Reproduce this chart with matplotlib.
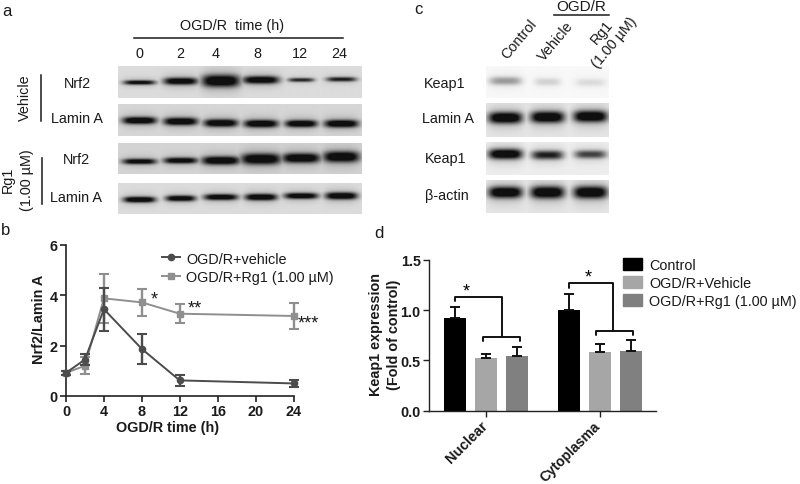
import numpy as np
import matplotlib
matplotlib.use("Agg")
import matplotlib.pyplot as plt
from matplotlib.patches import Patch
from matplotlib.lines import Line2D

plt.rcParams['font.family'] = ['Liberation Sans', 'DejaVu Sans']
W, H = 800, 485
FS = 10.4

# ---- Line chart (b)
time_h = [0, 2, 4, 8, 12, 24]
vehicle_mean = [0.92, 1.45, 3.45, 1.87, 0.62, 0.50]
vehicle_err = [0.08, 0.20, 0.85, 0.60, 0.23, 0.15]
rg1_mean = [0.92, 1.20, 3.88, 3.72, 3.27, 3.18]
rg1_err = [0.08, 0.33, 0.98, 0.53, 0.37, 0.50]

# ---- Bar chart (d)
fractions = ['Nuclear', 'Cytoplasma']
groups = ['Control', 'OGD/R+Vehicle', 'OGD/R+Rg1 (1.00 µM)']
control_vals = [0.92, 1.00]
control_err = [0.11, 0.16]
veh_vals = [0.52, 0.58]
veh_err = [0.04, 0.08]
rg1_vals = [0.54, 0.59]
rg1_bar_err = [0.09, 0.11]

# ---- Blots (a, c): band darkness 0..1, half-thickness px, half-width px, vertical fraction
a_nrf2_veh = dict(dark=[.85, .95, 1, .97, .7, .75], thick=[1.8, 2.8, 4.8, 3.0, 1.6, 1.8],
                  wide=[16, 17, 19, 18, 13, 15], pos=[.50, .46, .45, .42, .42, .40], bg=.86)
a_lamin_veh = dict(dark=[1, 1, 1, 1, 1, 1], thick=[2.8, 3.0, 3.0, 3.0, 2.8, 3.0],
                   wide=[17, 17, 17, 17, 16, 17], pos=[.50, .53, .58, .60, .60, .60], bg=.84)
a_nrf2_rg1 = dict(dark=[.9, .92, 1, 1, 1, 1], thick=[2.2, 2.4, 3.3, 4.3, 3.8, 4.3],
                  wide=[17, 17, 19, 20, 19, 18], pos=[.58, .55, .55, .50, .47, .43], bg=.83)
a_lamin_rg1 = dict(dark=[1, .95, .95, 1, .95, 1], thick=[2.3, 2.3, 2.4, 2.6, 2.4, 2.8],
                   wide=[16, 15, 17, 16, 17, 16], pos=[.52, .48, .44, .44, .40, .40], bg=.86)
c_keap_nuc = dict(dark=[.32, .13, .10], thick=[3.2, 3.0, 3.0], wide=[16, 13, 15],
                  pos=[.45, .48, .50], bg=.97)
c_lamin = dict(dark=[1, 1, 1], thick=[4.5, 4.5, 4.5], wide=[17, 17, 17],
               pos=[.42, .40, .38], bg=.90)
c_keap_cyt = dict(dark=[1, .75, .62], thick=[4.0, 3.5, 3.2], wide=[17, 16, 16],
                  pos=[.35, .38, .36], bg=.93)
c_actin = dict(dark=[1, 1, 1], thick=[4.5, 4.8, 4.8], wide=[17, 17, 17],
               pos=[.36, .36, .36], bg=.90)
a_lanes = [139, 180, 220, 260, 300, 340]
c_lanes = [505, 547, 590]
a_times = ['0', '2', '4', '8', '12', '24']
c_labels = ['Control', 'Vehicle', 'Rg1\n(1.00 µM)']

fig = plt.figure(figsize=(W / 100, H / 100), dpi=100, facecolor='white')


def px_axes(x0, y0, x1, y1):
    return fig.add_axes([x0 / W, 1 - y1 / H, (x1 - x0) / W, (y1 - y0) / H])


def ftext(x, y, s, **kw):
    kw.setdefault('ha', 'center')
    kw.setdefault('va', 'center')
    kw.setdefault('fontsize', FS)
    kw.setdefault('color', '#1a1a1a')
    fig.text(x / W, 1 - y / H, s, **kw)


def fline(xs, ys, lw=1.1):
    fig.add_artist(Line2D([x / W for x in xs], [1 - y / H for y in ys], color='#1a1a1a', lw=lw))


def blot(x0, y0, x1, y1, lanes, band):
    ax = px_axes(x0, y0, x1, y1)
    w, h = int(x1 - x0), int(y1 - y0)
    xx, yy = np.meshgrid(np.arange(w) + x0, np.arange(h))
    img = np.full((h, w), float(band['bg']))
    ink = np.zeros((h, w))
    for lane, d, t, wd, p in zip(lanes, band['dark'], band['thick'], band['wide'], band['pos']):
        g = np.exp(-np.abs((xx - lane) / wd) ** 4) * np.exp(-np.abs((yy - p * h) / (t * 1.25)) ** 2.4)
        halo = 0.22 * np.exp(-np.abs((xx - lane) / (wd * 1.05)) ** 4) * np.exp(-((yy - p * h) / (t * 2.6)) ** 2)
        ink = np.maximum(ink, d * g * 1.05 + halo * d)
    img = np.clip(img * (1 - np.clip(ink, 0, 1)) + 0.06 * np.clip(ink, 0, 1), 0, 1)
    ax.imshow(img, cmap='gray', vmin=0, vmax=1, aspect='auto', interpolation='bilinear')
    ax.axis('off')


# Panel a
ftext(7, 11, 'a', fontsize=12)
ftext(232, 26, 'OGD/R  time (h)')
fline([134, 343], [38.5, 38.5])
for lane, t in zip([139, 180, 216, 257, 300, 339], a_times):
    ftext(lane, 54, t)
for rect, band in zip([(118, 67, 361, 99), (118, 105, 361, 137), (118, 144, 361, 175), (118, 184, 361, 215)],
                      [a_nrf2_veh, a_lamin_veh, a_nrf2_rg1, a_lamin_rg1]):
    blot(*rect, a_lanes, band)
for y, s, x in [(84, 'Nrf2', 77), (119, 'Lamin A', 77), (160, 'Nrf2', 76), (198, 'Lamin A', 76)]:
    ftext(x, y, s)
fline([40.5, 40.5], [76, 122])
fline([42, 42], [159, 205])
ftext(25, 98, 'Vehicle', rotation=90)
ftext(8, 180, 'Rg1', rotation=90)
ftext(27, 180, '(1.00 µM)', rotation=90)

# Panel c
ftext(418, 10, 'c', fontsize=12)
ftext(581, 7, 'OGD/R', fontsize=11)
fline([554, 609], [16, 16])
for x, y, s in [(519, 40, c_labels[0]), (556, 42, c_labels[1]), (608, 38, c_labels[2])]:
    ftext(x, y, s, rotation=50, linespacing=1.2, ha='center', multialignment='center')
for rect, band in zip([(486, 67, 609, 99), (486, 104, 609, 138), (486, 143, 609, 176), (486, 181, 609, 214)],
                      [c_keap_nuc, c_lamin, c_keap_cyt, c_actin]):
    blot(*rect, c_lanes, band)
for y, s, x in [(84, 'Keap1', 445), (119, 'Lamin A', 448), (159, 'Keap1', 446), (196, 'β-actin', 447)]:
    ftext(x, y, s)

# Panel b
ftext(6, 231, 'b', fontsize=12)
axb = px_axes(66, 246, 293.5, 397)
axb.errorbar(time_h, rg1_mean, yerr=rg1_err, color='#8f8f8f', marker='s', ms=5, lw=1.4,
             elinewidth=1.7, capsize=3.5, capthick=1.5, clip_on=False, zorder=3)
axb.errorbar(time_h, vehicle_mean, yerr=vehicle_err, color='#4c4c4c', marker='o', ms=4.5, lw=1.4,
             elinewidth=1.7, capsize=3.5, capthick=1.5, clip_on=False, zorder=4)
axb.set_xlim(0, 24)
axb.set_ylim(0, 6)
axb.set_xticks([0, 4, 8, 12, 16, 20, 24])
axb.set_yticks([0, 2, 4, 6])
for sp in ('top', 'right'):
    axb.spines[sp].set_visible(False)
for sp in ('left', 'bottom'):
    axb.spines[sp].set_linewidth(1.2)
    axb.spines[sp].set_color('#222222')
axb.tick_params(width=1.2, length=4, pad=2, labelsize=FS, color='#222222', labelcolor='#1a1a1a')
for lab in axb.get_xticklabels() + axb.get_yticklabels():
    lab.set_fontweight('bold')
ftext(168, 428, 'OGD/R time (h)', fontweight='bold')
ftext(39, 319, 'Nrf2/Lamin A', rotation=90, fontweight='bold')
for x, y, s in [(154, 300, '*'), (195, 309, '**'), (308, 324, '***')]:
    ftext(x, y, s, fontsize=13)
fig.legend(handles=[Line2D([], [], color='#4c4c4c', marker='o', ms=4.5, lw=1.4, label='OGD/R+vehicle'),
                    Line2D([], [], color='#8f8f8f', marker='s', ms=5, lw=1.4, label='OGD/R+Rg1 (1.00 µM)')],
           loc='upper left', bbox_to_anchor=(162 / W, 1 - 252.5 / H), frameon=False, fontsize=FS,
           handlelength=1.25, handletextpad=0.42, labelspacing=0.3, borderpad=0, borderaxespad=0,
           labelcolor='#1a1a1a')

# Panel d
ftext(379, 233, 'd', fontsize=12)
axd = px_axes(429, 260.7, 656, 411.7)
centers = np.array([0, 3.67])
offsets = [-1, 0, 1]
colors = ['#000000', '#a6a6a6', '#808080']
for off, vals, errs, col in zip(offsets, [control_vals, veh_vals, rg1_vals],
                                [control_err, veh_err, rg1_bar_err], colors):
    xs = centers + off
    axd.bar(xs, vals, width=0.72, color=col)
    axd.errorbar(xs, vals, yerr=[np.zeros(2), errs], fmt='none', ecolor='#111111',
                 elinewidth=1.4, capsize=3.5, capthick=1.4)
axd.set_xlim(-1.84, 5.48)
axd.set_ylim(0, 1.5)
axd.set_yticks([0, 0.5, 1.0, 1.5])
axd.set_yticklabels(['0.0', '0.5', '1.0', '1.5'])
axd.set_xticks(centers)
axd.set_xticklabels([])
for sp in ('top', 'right'):
    axd.spines[sp].set_visible(False)
for sp in ('left', 'bottom'):
    axd.spines[sp].set_linewidth(1.0)
    axd.spines[sp].set_color('#222222')
axd.tick_params(width=1.0, length=4, pad=2, labelsize=FS, color='#222222', labelcolor='#1a1a1a')
for lab in axd.get_yticklabels():
    lab.set_fontweight('bold')
ftext(467, 443, fractions[0], rotation=45, fontweight='bold')
ftext(570, 452, fractions[1], rotation=45, fontweight='bold', fontsize=10)
ftext(385, 335, 'Keap1 expression\n(Fold of control)', rotation=90, fontweight='bold', linespacing=1.3)

bk = dict(color='#111111', lw=1.4, solid_capstyle='round', solid_joinstyle='round')
# Nuclear bracket
axd.plot([-1, -1, 0.5, 0.5], [1.09, 1.13, 1.13, 0.73], **bk)
axd.plot([-0.1, -0.1, 1.1, 1.1], [0.69, 0.73, 0.73, 0.69], **bk)
axd.text(-0.65, 1.19, '*', ha='center', va='center', fontsize=13)
# Cytoplasma bracket
axd.plot([2.67, 2.67, 4.1, 4.1], [1.22, 1.265, 1.265, 0.79], **bk)
axd.plot([3.55, 3.55, 4.75, 4.75], [0.75, 0.79, 0.79, 0.75], **bk)
axd.text(3.3, 1.325, '*', ha='center', va='center', fontsize=13)

fig.legend(handles=[Patch(color=c, label=g) for c, g in zip(colors, groups)],
           loc='upper left', bbox_to_anchor=(623 / W, 1 - 259 / H), frameon=False, fontsize=FS,
           handlelength=1.3, handleheight=0.85, handletextpad=0.5, labelspacing=0.27,
           borderpad=0, borderaxespad=0, labelcolor='#1a1a1a')

fig.savefig('out.png', dpi=100)
